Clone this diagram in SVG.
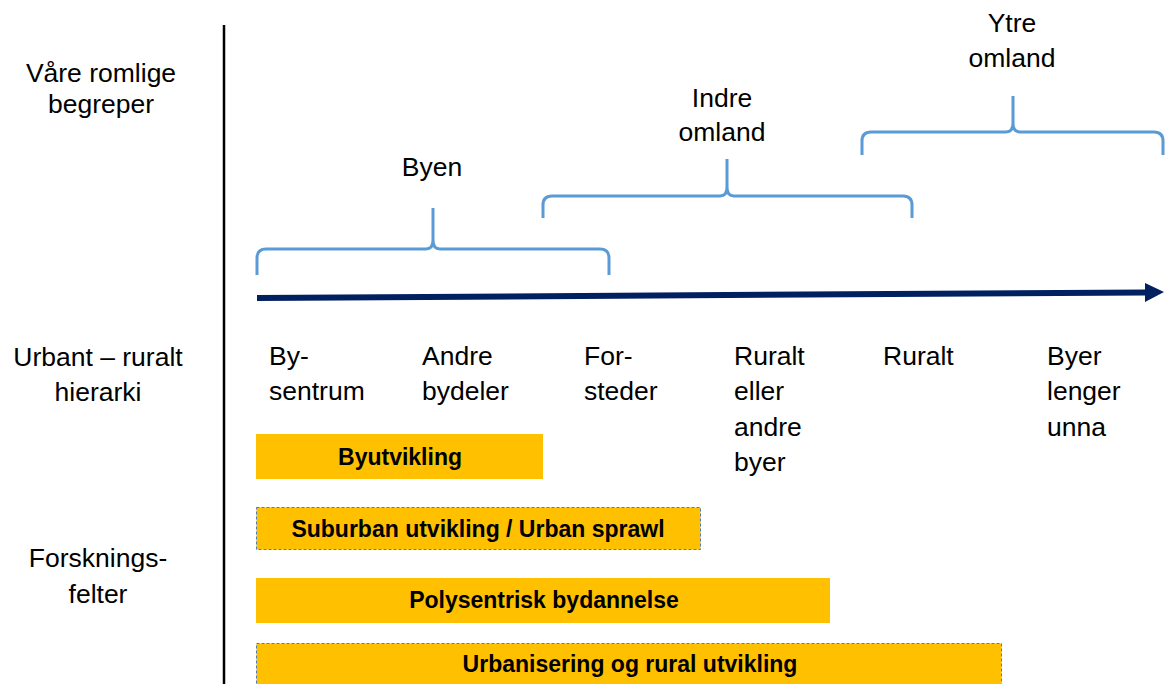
<svg xmlns="http://www.w3.org/2000/svg" width="1165" height="684" viewBox="0 0 1165 684">
<defs>
<style>
.t{font-family:"Liberation Sans",Arial,sans-serif;font-size:26.5px;fill:#000}
.c{text-anchor:middle}
.b{font-family:"Liberation Sans",Arial,sans-serif;font-size:23px;font-weight:bold;fill:#000;text-anchor:middle}
.brace{fill:none;stroke:#5B9BD5;stroke-width:3}
.bar{fill:#FFC000}
.dash{stroke:#4A7EBB;stroke-width:1;stroke-dasharray:3 2}
</style>
</defs>
<rect width="1165" height="684" fill="#fff"/>
<g id="axis-line"><line x1="224" y1="25" x2="224" y2="684" stroke="#000" stroke-width="2.5"/></g>
<g id="row-labels">
<text class="t c" x="101" y="82">Våre romlige</text>
<text class="t c" x="101" y="113">begreper</text>
<text class="t c" x="98" y="366">Urbant – ruralt</text>
<text class="t c" x="98" y="401">hierarki</text>
<text class="t c" x="98" y="567">Forsknings-</text>
<text class="t c" x="98" y="603">felter</text>
</g>
<g id="connectors">
<polygon points="257,295 1145,289.5 1145,283 1164,292 1145,302 1145,295.5 257,301" fill="#002060"/>
</g>
<g id="brace-byen">
<path class="brace" d="M257,275 V258 Q257,249 266,249 H426 Q433,249 433,240 V208 M433,240 Q433,249 440,249 H600 Q609,249 609,258 V275"/>
<text class="t c" x="432" y="176">Byen</text>
</g>
<g id="brace-indre">
<path class="brace" d="M543,218 V205 Q543,196 552,196 H720 Q727,196 727,187 V159 M727,187 Q727,196 734,196 H903 Q912,196 912,205 V218"/>
<text class="t c" x="722" y="107">Indre</text>
<text class="t c" x="722" y="141">omland</text>
</g>
<g id="brace-ytre">
<path class="brace" d="M862,155 V141 Q862,132 871,132 H1006 Q1013,132 1013,123 V96 M1013,123 Q1013,132 1020,132 H1154 Q1163,132 1163,141 V155"/>
<text class="t" x="1012" y="32" text-anchor="middle">Ytre</text>
<text class="t" x="1012" y="67" text-anchor="middle">omland</text>
</g>
<g id="hier-bysentrum"><text class="t" x="269" y="365">By-</text><text class="t" x="269" y="400">sentrum</text></g>
<g id="hier-andre"><text class="t" x="422" y="365">Andre</text><text class="t" x="422" y="400">bydeler</text></g>
<g id="hier-forsteder"><text class="t" x="584" y="365">For-</text><text class="t" x="584" y="400">steder</text></g>
<g id="hier-ruralt-eller"><text class="t" x="734" y="365">Ruralt</text><text class="t" x="734" y="400">eller</text><text class="t" x="734" y="436">andre</text><text class="t" x="734" y="471">byer</text></g>
<g id="hier-ruralt"><text class="t" x="883" y="365">Ruralt</text></g>
<g id="hier-byer"><text class="t" x="1047" y="365">Byer</text><text class="t" x="1047" y="400">lenger</text><text class="t" x="1047" y="436">unna</text></g>
<g id="bar-byutvikling"><rect class="bar" x="256" y="434" width="287" height="45"/><text class="b" x="400" y="465">Byutvikling</text></g>
<g id="bar-suburban"><rect class="bar dash" x="256.5" y="507.5" width="444" height="42"/><text class="b" x="478" y="537">Suburban utvikling / Urban sprawl</text></g>
<g id="bar-polysentrisk"><rect class="bar" x="256" y="578" width="574" height="45"/><text class="b" x="544" y="608">Polysentrisk bydannelse</text></g>
<g id="bar-urbanisering"><rect class="bar dash" x="256.5" y="643.5" width="745" height="50"/><text class="b" x="630" y="672">Urbanisering og rural utvikling</text></g>
</svg>
